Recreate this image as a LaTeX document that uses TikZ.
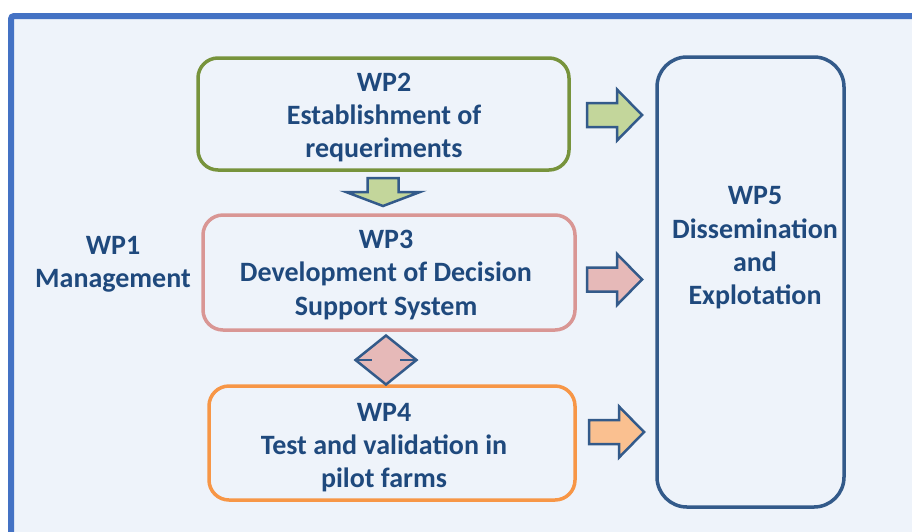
\documentclass[tikz,border=0pt]{standalone}
\usepackage{fontspec}
\setmainfont{Carlito}
\begin{document}
\definecolor{frameblue}{HTML}{4472C4}
\definecolor{panel}{HTML}{EEF3FA}
\definecolor{navy}{HTML}{1F497D}
\definecolor{outline}{HTML}{335A8A}
\definecolor{olive}{HTML}{77933C}
\definecolor{olivefill}{HTML}{C3D69B}
\definecolor{rose}{HTML}{D99694}
\definecolor{rosefill}{HTML}{E6B9B8}
\definecolor{amber}{HTML}{F79646}
\definecolor{amberfill}{HTML}{FAC090}
\begin{tikzpicture}[x=1pt,y=-1pt,
  wpbox/.style={draw, line width=3.5pt, rounded corners=20pt, inner sep=0pt},
  wptext/.style={text=navy, font=\bfseries\fontsize{28}{33.3}\selectfont, align=center, inner sep=0pt},
  blockarrow/.style={draw=outline, line width=2.5pt, line join=miter},
  rightarrow/.pic={\path[blockarrow, pic actions] (0,-12) -- (30,-12) -- (30,-25.5) -- (55,0) -- (30,25.5) -- (30,12) -- (0,12) -- cycle;},
  downarrow/.pic={\path[blockarrow, pic actions] (-15.5,0) -- (15.5,0) -- (15.5,14) -- (37,14) -- (0,28) -- (-37,14) -- (-15.5,14) -- cycle;}]
  \useasboundingbox (0,0) rectangle (912,531);
  \clip (0,0) rectangle (912,531);
  \fill[white] (0,0) rectangle (912,531);
  % framed panel, running off the right and bottom edges
  \draw[frameblue, line width=6pt, fill=panel, rounded corners=3pt] (11,16) rectangle (940,560);

  % work package boxes
  \node[wpbox, draw=olive, minimum width=371pt, minimum height=112pt] (wp2) at (383.5,114) {};
  \node[wpbox, draw=rose, minimum width=372pt, minimum height=115pt] (wp3) at (389,272.5) {};
  \node[wpbox, draw=amber, minimum width=366pt, minimum height=114pt] (wp4) at (392,443) {};
  \node[wpbox, draw=outline, rounded corners=30pt, minimum width=187pt, minimum height=450pt] (wp5) at (750.5,282) {};

  % labels
  \node[wptext] (t1) at (113,264) {WP1\\Management};
  \node[wptext] (t2) at (384,117.5) {WP2\\Establishment of\\requeriments};
  \node[wptext] (t3) at (386,275) {WP3\\Development of Decision\\Support System};
  \node[wptext] (t4) at (384,447.5) {WP4\\Test and validation in\\pilot farms};
  \node[wptext] (t5) at (755,248) {WP5\\Dissemination\\and\\Explotation};

  % block arrows towards WP5
  \coordinate (a2) at (587,115);
  \coordinate (a3) at (587,279.5);
  \coordinate (a4) at (589,432);
  \pic[fill=olivefill] at (a2) {rightarrow};
  \pic[fill=rosefill] at (a3) {rightarrow};
  \pic[fill=amberfill] at (a4) {rightarrow};

  % WP2 feeds WP3
  \coordinate (d23) at (383,178);
  \pic[fill=olivefill] at (d23) {downarrow};

  % two-way link between WP3 and WP4
  \coordinate (d34) at (386,360);
  \draw[blockarrow, fill=rosefill] ([xshift=-30.5pt]d34) -- ([yshift=-24.5pt]d34) -- ([xshift=30.5pt]d34) -- ([yshift=24.5pt]d34) -- cycle;
  \draw[blockarrow] ([xshift=-30.5pt]d34) -- ([xshift=-14pt]d34);
  \draw[blockarrow] ([xshift=14pt]d34) -- ([xshift=30.5pt]d34);
\end{tikzpicture}
\end{document}
